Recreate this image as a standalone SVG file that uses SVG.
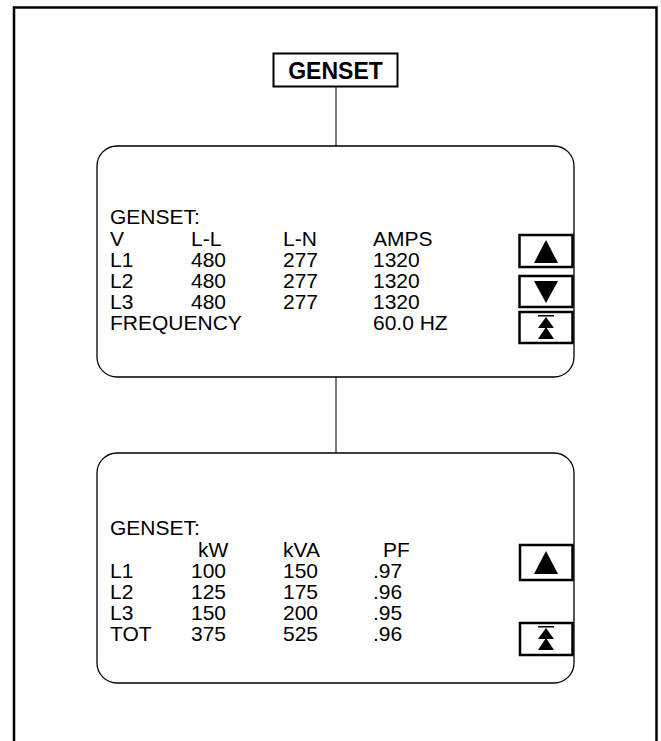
<svg xmlns="http://www.w3.org/2000/svg" width="661" height="741" viewBox="0 0 661 741">
<style>
.frame{fill:none;stroke:#000;stroke-width:2.5}
.panel{fill:#fff;stroke:#000;stroke-width:1.3}
.btn{fill:#fff;stroke:#000;stroke-width:2.5}
.conn{stroke:#333;stroke-width:1.3;fill:none}
.t{font-family:"Liberation Sans",Arial,sans-serif;font-size:21px;fill:#000}
.title{font-family:"Liberation Sans",Arial,sans-serif;font-size:23px;font-weight:bold;fill:#000}
.ic{fill:#000}
</style>
<rect width="661" height="741" fill="#fff"/>
<path class="frame" d="M14,745 V7.5 H656.5 V745"/>
<g id="connectors">
<line class="conn" x1="336" y1="87" x2="336" y2="146"/>
<line class="conn" x1="336" y1="377" x2="336" y2="453"/>
</g>
<g id="genset-title">
<rect x="273.5" y="53.5" width="124" height="33" fill="#fff" stroke="#000" stroke-width="2"/>
<text class="title" x="335.5" y="78.5" text-anchor="middle">GENSET</text>
</g>
<g id="panel-voltage">
<rect class="panel" x="97" y="146" width="477" height="231" rx="20"/>
<text class="t" x="110" y="224">GENSET:</text>
<text class="t" x="110" y="246">V</text>
<text class="t" x="191" y="246">L-L</text>
<text class="t" x="283" y="246">L-N</text>
<text class="t" x="373" y="246">AMPS</text>
<text class="t" x="110" y="267">L1</text>
<text class="t" x="191" y="267">480</text>
<text class="t" x="283" y="267">277</text>
<text class="t" x="373" y="267">1320</text>
<text class="t" x="110" y="288">L2</text>
<text class="t" x="191" y="288">480</text>
<text class="t" x="283" y="288">277</text>
<text class="t" x="373" y="288">1320</text>
<text class="t" x="110" y="309">L3</text>
<text class="t" x="191" y="309">480</text>
<text class="t" x="283" y="309">277</text>
<text class="t" x="373" y="309">1320</text>
<text class="t" x="110" y="330">FREQUENCY</text>
<text class="t" x="373" y="330">60.0 HZ</text>
<rect class="btn" x="519.5" y="235" width="53" height="32"/>
<polygon class="ic" points="546,240 534,263 558,263"/>
<rect class="btn" x="519.5" y="276" width="53" height="31"/>
<polygon class="ic" points="534,281 558,281 546,303"/>
<rect class="btn" x="519.5" y="312" width="53" height="31"/>
<rect class="ic" x="538" y="315" width="16" height="1.5"/>
<polygon class="ic" points="546,317 538,328 554,328"/>
<polygon class="ic" points="546,327 538,339 554,339"/>
</g>
<g id="panel-power">
<rect class="panel" x="97" y="453" width="477" height="230" rx="20"/>
<text class="t" x="110" y="535">GENSET:</text>
<text class="t" x="198" y="557">kW</text>
<text class="t" x="283" y="557">kVA</text>
<text class="t" x="383" y="557">PF</text>
<text class="t" x="110" y="578">L1</text>
<text class="t" x="191" y="578">100</text>
<text class="t" x="283" y="578">150</text>
<text class="t" x="373" y="578">.97</text>
<text class="t" x="110" y="599">L2</text>
<text class="t" x="191" y="599">125</text>
<text class="t" x="283" y="599">175</text>
<text class="t" x="373" y="599">.96</text>
<text class="t" x="110" y="620">L3</text>
<text class="t" x="191" y="620">150</text>
<text class="t" x="283" y="620">200</text>
<text class="t" x="373" y="620">.95</text>
<text class="t" x="110" y="641">TOT</text>
<text class="t" x="191" y="641">375</text>
<text class="t" x="283" y="641">525</text>
<text class="t" x="373" y="641">.96</text>
<rect class="btn" x="520" y="545" width="52.5" height="35"/>
<polygon class="ic" points="546,551 534,574 558,574"/>
<rect class="btn" x="520" y="623" width="52.5" height="32"/>
<rect class="ic" x="538" y="626" width="16" height="1.5"/>
<polygon class="ic" points="546,628 538,639 554,639"/>
<polygon class="ic" points="546,638 538,650 554,650"/>
</g>
</svg>
